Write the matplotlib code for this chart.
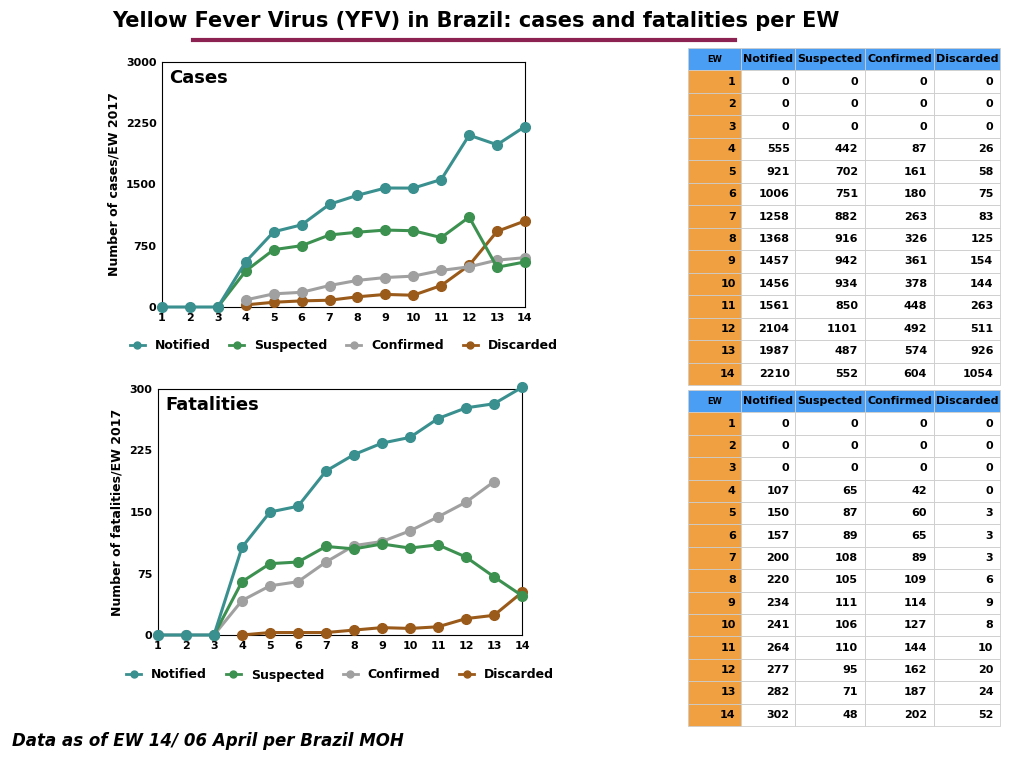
import matplotlib
matplotlib.use("Agg")
import matplotlib.pyplot as plt
from matplotlib.lines import Line2D

ew = list(range(1, 15))
c_notified = [0,0,0,555,921,1006,1258,1368,1457,1456,1561,2104,1987,2210]
c_suspected = [0,0,0,442,702,751,882,916,942,934,850,1101,487,552]
c_confirmed = [0,0,0,87,161,180,263,326,361,378,448,492,574,604]
c_discarded = [0,0,0,26,58,75,83,125,154,144,263,511,926,1054]
f_notified = [0,0,0,107,150,157,200,220,234,241,264,277,282,302]
f_suspected = [0,0,0,65,87,89,108,105,111,106,110,95,71,48]
f_confirmed = [0,0,0,42,60,65,89,109,114,127,144,162,187,202]
f_discarded = [0,0,0,0,3,3,3,6,9,8,10,20,24,52]

series_names = ["Notified", "Suspected", "Confirmed", "Discarded"]
colors = ["#3a8f8f", "#3d9150", "#a0a0a0", "#9a5a1a"]

fig = plt.figure(figsize=(10.24, 7.68), dpi=100)
fig.text(0.465, 0.973, "Yellow Fever Virus (YFV) in Brazil: cases and fatalities per EW",
         ha="center", va="center", fontsize=15, fontweight="bold")
fig.add_artist(Line2D([193/1024, 735/1024], [1-40/768]*2, color="#8b2252", lw=3))
fig.text(12/1024, 1-741/768, "Data as of EW 14/ 06 April per Brazil MOH",
         fontsize=12, fontweight="bold", style="italic", va="center")

def chart(rect, data, ymax, ticks, title, ylabel, legy, ends):
    ax = fig.add_axes(rect)
    for i, (d, c) in enumerate(zip(data, colors)):
        s = ends[i]
        ax.plot(ew[s[0]:s[1]], d[s[0]:s[1]], "-o", color=c, lw=2.2, ms=7, clip_on=False, zorder=3+ (3-i))
    ax.set_xlim(1, 14); ax.set_ylim(0, ymax)
    ax.set_xticks(ew); ax.set_yticks(ticks)
    ax.tick_params(labelsize=8, length=0, pad=4)
    for l in ax.get_xticklabels() + ax.get_yticklabels():
        l.set_fontweight("bold")
    ax.set_ylabel(ylabel, fontsize=9, fontweight="bold")
    ax.text(0.02, 0.97, title, transform=ax.transAxes, fontsize=13, fontweight="bold", va="top")
    handles = [Line2D([0],[0], color=c, marker="o", lw=2, ms=5) for c in colors]
    leg = fig.legend(handles, series_names, loc="center", bbox_to_anchor=(rect[0]+rect[2]/2, legy),
               ncol=4, frameon=False, fontsize=9, handlelength=1.2, columnspacing=1.5)
    for t in leg.get_texts():
        t.set_fontweight("bold")
    return ax

chart([162/1024, 1-307/768, 363/1024, 245/768],
      [c_notified, c_suspected, c_confirmed, c_discarded], 3000, [0,750,1500,2250,3000],
      "Cases", "Number of cases/EW 2017", 1-346/768,
      [(0,14),(2,14),(3,14),(3,14)])
chart([158/1024, 1-635/768, 364/1024, 246/768],
      [f_notified, f_suspected, f_confirmed, f_discarded], 300, [0,75,150,225,300],
      "Fatalities", "Number of fatalities/EW 2017", 1-675/768,
      [(0,14),(2,14),(0,13),(3,14)])

def table(y_top, y_bot, cols):
    ax = fig.add_axes([688/1024, 1-y_bot/768, 312/1024, (y_bot-y_top)/768])
    ax.axis("off")
    rows = [[str(e)] + [str(c[i]) for c in cols] for i, e in enumerate(ew)]
    tb = ax.table(cellText=rows, colLabels=["EW"] + series_names, bbox=[0, 0, 1, 1],
                  cellLoc="right", colWidths=[53, 54, 70, 69, 66])
    tb.auto_set_font_size(False)
    for (r, c), cell in tb.get_celld().items():
        cell.set_edgecolor("#cccccc"); cell.set_linewidth(0.6)
        cell.get_text().set_fontweight("bold")
        cell.get_text().set_fontsize(8)
        if r == 0:
            cell.set_facecolor("#4a9ff5")
            cell.get_text().set_ha("center"); cell._loc = "center"
            if c == 0:
                cell.get_text().set_fontsize(6); cell._loc = "left"
        elif c == 0:
            cell.set_facecolor("#f0a040")
    return tb

table(48, 385, [c_notified, c_suspected, c_confirmed, c_discarded])
table(390, 726, [f_notified, f_suspected, f_confirmed, f_discarded])

fig.savefig("out.png", dpi=100)
